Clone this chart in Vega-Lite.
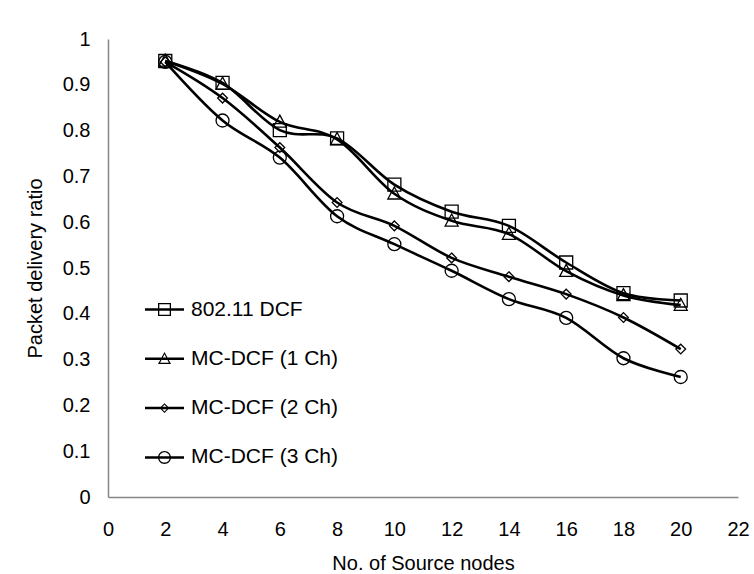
{
  "$schema": "https://vega.github.io/schema/vega-lite/v6.json",
  "width": 630,
  "height": 458,
  "autosize": {"type": "none"},
  "padding": {"left": 108, "top": 39, "right": 16, "bottom": 77},
  "background": "white",
  "config": {
    "font": "Liberation Sans",
    "view": {"stroke": null},
    "axis": {
      "domainColor": "#868686",
      "domainWidth": 1.5,
      "ticks": false,
      "tickSize": 0,
      "grid": false,
      "labelFont": "Liberation Sans",
      "labelFontSize": 20,
      "labelColor": "black",
      "titleFont": "Liberation Sans",
      "titleFontSize": 20,
      "titleFontWeight": "normal",
      "titleColor": "black"
    }
  },
  "data": {
    "values": [
      {"nodes": 2, "ratio": 0.952, "series": "802.11 DCF"},
      {"nodes": 4, "ratio": 0.904, "series": "802.11 DCF"},
      {"nodes": 6, "ratio": 0.801, "series": "802.11 DCF"},
      {"nodes": 8, "ratio": 0.783, "series": "802.11 DCF"},
      {"nodes": 10, "ratio": 0.682, "series": "802.11 DCF"},
      {"nodes": 12, "ratio": 0.623, "series": "802.11 DCF"},
      {"nodes": 14, "ratio": 0.592, "series": "802.11 DCF"},
      {"nodes": 16, "ratio": 0.512, "series": "802.11 DCF"},
      {"nodes": 18, "ratio": 0.445, "series": "802.11 DCF"},
      {"nodes": 20, "ratio": 0.429, "series": "802.11 DCF"},
      {"nodes": 2, "ratio": 0.952, "series": "MC-DCF (1 Ch)"},
      {"nodes": 4, "ratio": 0.902, "series": "MC-DCF (1 Ch)"},
      {"nodes": 6, "ratio": 0.819, "series": "MC-DCF (1 Ch)"},
      {"nodes": 8, "ratio": 0.781, "series": "MC-DCF (1 Ch)"},
      {"nodes": 10, "ratio": 0.662, "series": "MC-DCF (1 Ch)"},
      {"nodes": 12, "ratio": 0.603, "series": "MC-DCF (1 Ch)"},
      {"nodes": 14, "ratio": 0.574, "series": "MC-DCF (1 Ch)"},
      {"nodes": 16, "ratio": 0.493, "series": "MC-DCF (1 Ch)"},
      {"nodes": 18, "ratio": 0.44, "series": "MC-DCF (1 Ch)"},
      {"nodes": 20, "ratio": 0.419, "series": "MC-DCF (1 Ch)"},
      {"nodes": 2, "ratio": 0.95, "series": "MC-DCF (2 Ch)"},
      {"nodes": 4, "ratio": 0.871, "series": "MC-DCF (2 Ch)"},
      {"nodes": 6, "ratio": 0.763, "series": "MC-DCF (2 Ch)"},
      {"nodes": 8, "ratio": 0.643, "series": "MC-DCF (2 Ch)"},
      {"nodes": 10, "ratio": 0.592, "series": "MC-DCF (2 Ch)"},
      {"nodes": 12, "ratio": 0.522, "series": "MC-DCF (2 Ch)"},
      {"nodes": 14, "ratio": 0.481, "series": "MC-DCF (2 Ch)"},
      {"nodes": 16, "ratio": 0.443, "series": "MC-DCF (2 Ch)"},
      {"nodes": 18, "ratio": 0.392, "series": "MC-DCF (2 Ch)"},
      {"nodes": 20, "ratio": 0.323, "series": "MC-DCF (2 Ch)"},
      {"nodes": 2, "ratio": 0.95, "series": "MC-DCF (3 Ch)"},
      {"nodes": 4, "ratio": 0.822, "series": "MC-DCF (3 Ch)"},
      {"nodes": 6, "ratio": 0.741, "series": "MC-DCF (3 Ch)"},
      {"nodes": 8, "ratio": 0.613, "series": "MC-DCF (3 Ch)"},
      {"nodes": 10, "ratio": 0.552, "series": "MC-DCF (3 Ch)"},
      {"nodes": 12, "ratio": 0.494, "series": "MC-DCF (3 Ch)"},
      {"nodes": 14, "ratio": 0.432, "series": "MC-DCF (3 Ch)"},
      {"nodes": 16, "ratio": 0.391, "series": "MC-DCF (3 Ch)"},
      {"nodes": 18, "ratio": 0.303, "series": "MC-DCF (3 Ch)"},
      {"nodes": 20, "ratio": 0.262, "series": "MC-DCF (3 Ch)"}
    ]
  },
  "encoding": {
    "x": {
      "field": "nodes",
      "type": "quantitative",
      "scale": {"domain": [0, 22], "nice": false, "zero": false},
      "axis": {
        "title": "No. of Source nodes",
        "values": [0, 2, 4, 6, 8, 10, 12, 14, 16, 18, 20, 22],
        "labelPadding": 22,
        "titlePadding": 14,
        "labelFlush": false
      }
    },
    "y": {
      "field": "ratio",
      "type": "quantitative",
      "scale": {"domain": [0, 1], "nice": false},
      "axis": {
        "title": "Packet delivery ratio",
        "values": [0, 0.1, 0.2, 0.3, 0.4, 0.5, 0.6, 0.7, 0.8, 0.9, 1],
        "format": ".1~f",
        "labelPadding": 18,
        "titlePadding": 17,
        "labelFlush": false
      }
    }
  },
  "layer": [
    {
      "mark": {"type": "line", "interpolate": "cardinal", "color": "black", "strokeWidth": 2.6},
      "encoding": {"detail": {"field": "series"}}
    },
    {
      "mark": {"type": "point", "filled": false, "stroke": "black", "strokeWidth": 1.3, "size": 169, "opacity": 1},
      "encoding": {
        "shape": {
          "field": "series",
          "type": "nominal",
          "scale": {
            "domain": ["802.11 DCF", "MC-DCF (1 Ch)", "MC-DCF (2 Ch)", "MC-DCF (3 Ch)"],
            "range": [
              "M-1,-1H1V1H-1Z",
              "M0,-1.05L1,0.8H-1Z",
              "M0,-0.75L0.75,0L0,0.75L-0.75,0Z",
              "M-1,0A1,1 0 1,0 1,0A1,1 0 1,0 -1,0Z"
            ]
          },
          "legend": null
        }
      }
    },
    {
      "transform": [{"filter": "datum.nodes < 0"}],
      "mark": {"type": "point", "filled": true, "fill": "black", "strokeWidth": 0, "size": 169, "opacity": 1},
      "encoding": {
        "shape": {
          "field": "series",
          "type": "nominal",
          "scale": {
            "domain": ["802.11 DCF", "MC-DCF (1 Ch)", "MC-DCF (2 Ch)", "MC-DCF (3 Ch)"],
            "range": [
              "M-3,-0.19H3V0.19H-3Z M-1,-1H1V1H-1Z M-0.8,-0.8V0.8H0.8V-0.8Z",
              "M-3,-0.19H3V0.19H-3Z M0,-1.05L1,0.8H-1Z M0,-0.7L-0.68,0.6H0.68Z",
              "M-3,-0.19H3V0.19H-3Z M0,-0.75L0.75,0L0,0.75L-0.75,0Z M0,-0.52L-0.52,0L0,0.52L0.52,0Z",
              "M-3,-0.19H3V0.19H-3Z M-1,0A1,1 0 1,1 1,0A1,1 0 1,1 -1,0Z M-0.8,0A0.8,0.8 0 1,0 0.8,0A0.8,0.8 0 1,0 -0.8,0Z"
            ]
          },
          "legend": {
            "title": null,
            "orient": "none",
            "legendX": 46,
            "legendY": 260,
            "padding": 0,
            "symbolSize": 169,
            "symbolFillColor": "black",
            "symbolStrokeColor": "transparent",
            "symbolStrokeWidth": 0,
            "symbolOpacity": 1,
            "labelFont": "Liberation Sans",
            "labelFontSize": 21,
            "labelColor": "black",
            "labelOffset": 16,
            "labelLimit": 300,
            "rowPadding": 27.3
          }
        }
      }
    }
  ],
  "resolve": {"scale": {"shape": "independent"}}
}
